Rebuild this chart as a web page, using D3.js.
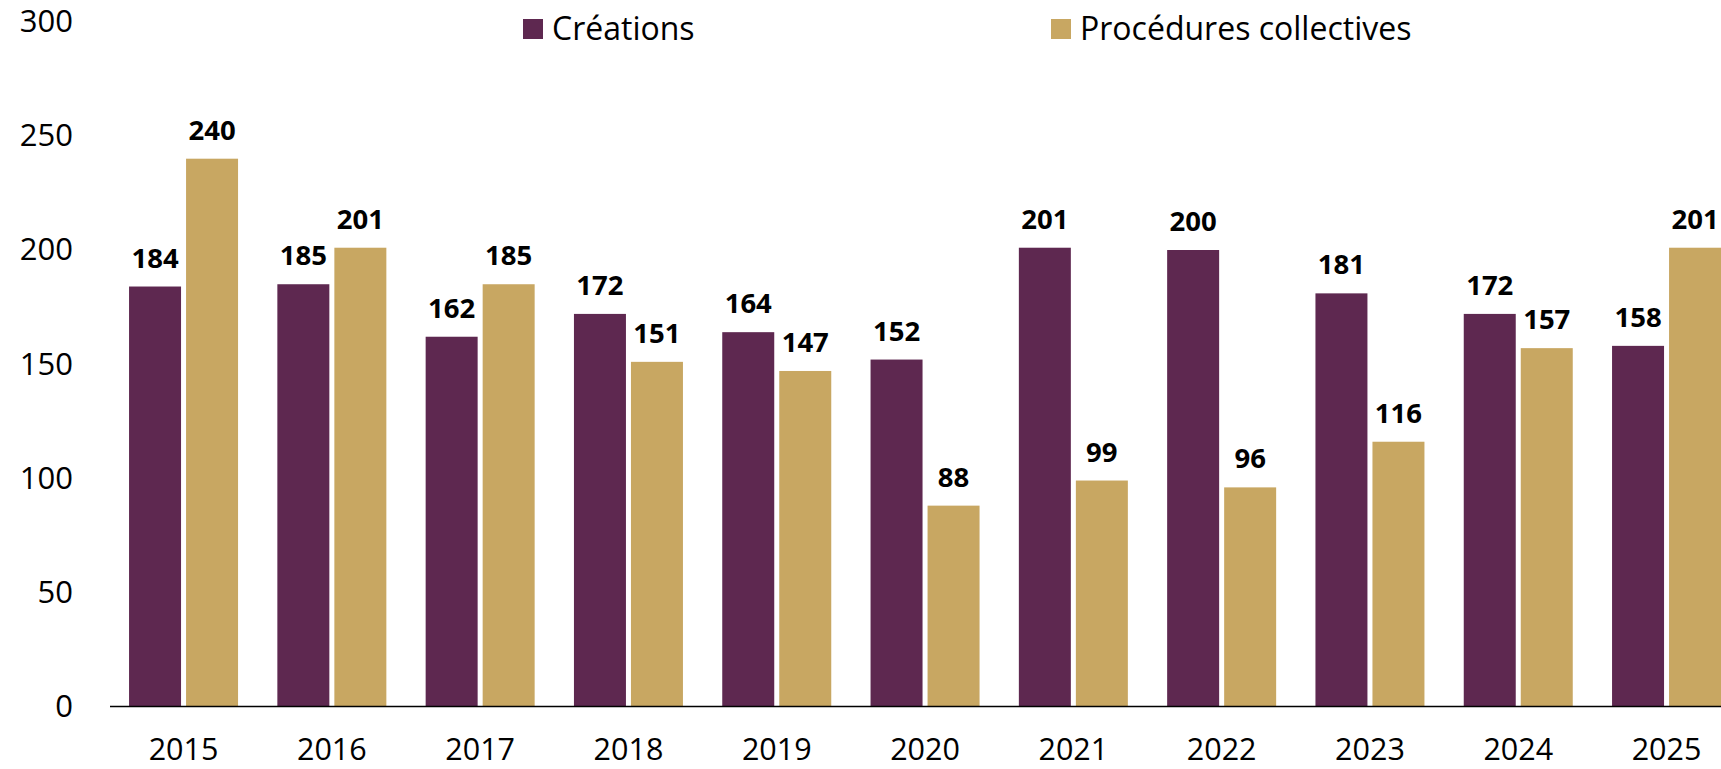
<!DOCTYPE html>
<html>
<head>
<meta charset="utf-8">
<script src="https://cdn.jsdelivr.net/npm/d3@7"></script>
<style>
  body { margin: 0; background: #fff; }
  svg { display: block; font-family: 'Open Sans', sans-serif; }
</style>
</head>
<body>
<svg id="chart"></svg>
<script>
// values
const years = ['2015','2016','2017','2018','2019','2020','2021','2022','2023','2024','2025'];
const creations = [184,185,162,172,164,152,201,200,181,172,158];
const procedures = [240,201,185,151,147,88,99,96,116,157,201];
const seriesNames = ['Créations','Procédures collectives'];
const yTicks = [0,50,100,150,200,250,300];

const width = 1721, height = 769;
const colors = {'Créations':'#5e2850','Procédures collectives':'#c8a762'};

const svg = d3.select('#chart').attr('width',width).attr('height',height);

const rows = years.map((y,i)=>({year:y,'Créations':creations[i],'Procédures collectives':procedures[i]}));

const y = d3.scaleLinear().domain([0,300]).range([706.5,21.75]);

// chart runs a bit past the right edge, like the original
const x0 = d3.scaleBand()
    .domain(years)
    .range([109.4,1740.7])
    .paddingInner(0.265)
    .paddingOuter(0.1325);

const x1 = d3.scaleBand()
    .domain(seriesNames)
    .range([0,x0.bandwidth()])
    .paddingInner(0.088);

// bars
const groups = svg.append('g').selectAll('g')
    .data(rows)
    .enter()
    .append('g')
    .attr('transform',d=>`translate(${x0(d.year)},0)`);

groups.selectAll('rect')
    .data(d=>seriesNames.map(k=>({key:k,value:d[k]})))
    .enter()
    .append('rect')
    .attr('x',d=>x1(d.key))
    .attr('width',x1.bandwidth())
    .attr('y',d=>y(d.value))
    .attr('height',d=>y(0)-y(d.value))
    .attr('fill',d=>colors[d.key]);

groups.selectAll('text')
    .data(d=>seriesNames.map(k=>({key:k,value:d[k]})))
    .enter()
    .append('text')
    .attr('x',d=>x1(d.key)+x1.bandwidth()/2)
    .attr('y',d=>y(d.value)-19)
    .attr('text-anchor','middle')
    .attr('font-size','27.5px')
    .attr('font-weight','bold')
    .attr('fill','#000')
    .text(d=>d.value);

// y axis labels (no line)
const yAxis = svg.append('g')
    .attr('transform','translate(73,0)')
    .call(d3.axisLeft(y).tickValues(yTicks).tickSize(0).tickPadding(0));
yAxis.select('.domain').remove();
yAxis.selectAll('text')
    .attr('font-size','31px')
    .attr('font-family','Open Sans, sans-serif')
    .attr('fill','#000');

// x axis
const xAxis = svg.append('g')
    .attr('transform',`translate(0,${y(0)})`)
    .call(d3.axisBottom(x0).tickSize(0).tickPadding(32));
xAxis.select('.domain')
    .attr('stroke','#000')
    .attr('stroke-width',1.5)
    .attr('d',`M110,0H${width}`);
xAxis.selectAll('text')
    .attr('font-size','30.5px')
    .attr('font-family','Open Sans, sans-serif')
    .attr('fill','#000');

// legend
const legendX = [523,1051];
const legend = svg.append('g').selectAll('g')
    .data(seriesNames)
    .enter()
    .append('g')
    .attr('transform',(d,i)=>`translate(${legendX[i]},19)`);
legend.append('rect')
    .attr('width',20)
    .attr('height',20)
    .attr('fill',d=>colors[d]);
legend.append('text')
    .attr('x',29)
    .attr('y',10)
    .attr('dy','0.35em')
    .attr('font-size','32px')
    .attr('fill','#000')
    .text(d=>d);
</script>
</body>
</html>
